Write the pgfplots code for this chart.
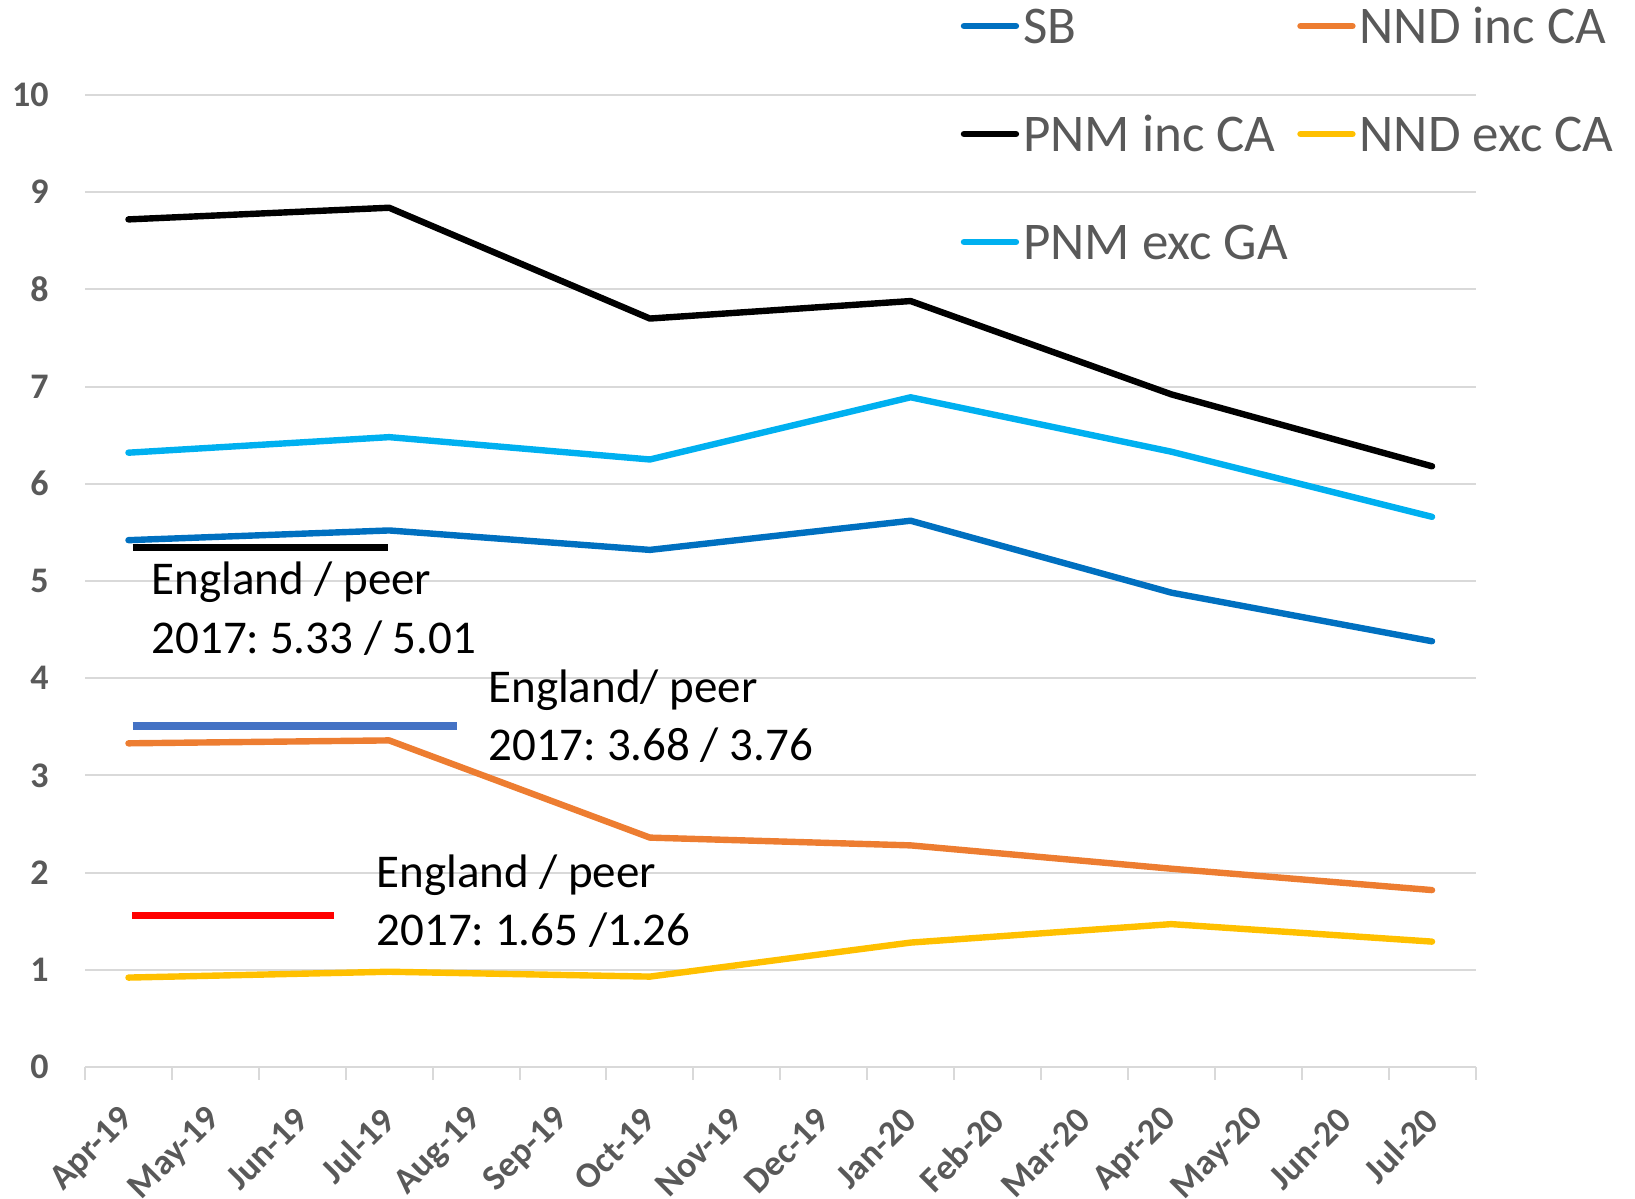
\documentclass[border=0pt]{standalone}
\usepackage{fontspec}
\setmainfont{Carlito}
\usepackage{pgfplots}
\pgfplotsset{compat=1.18}
\usetikzlibrary{calc}
\definecolor{sbblue}{HTML}{0070C0}
\definecolor{ndorange}{HTML}{ED7D31}
\definecolor{ndyellow}{HTML}{FFC000}
\definecolor{pnmcyan}{HTML}{00B0F0}
\definecolor{refblue}{HTML}{4472C4}
\definecolor{gridgray}{HTML}{D9D9D9}
\definecolor{txtgray}{HTML}{595959}
\frenchspacing
\begin{document}
\begin{tikzpicture}
\begin{axis}[
  scale only axis,
  width=695.25pt, height=486pt,
  xmin=-0.5, xmax=15.5, ymin=0, ymax=10,
  xtick={0,...,15},
  xticklabels={Apr-19,May-19,Jun-19,Jul-19,Aug-19,Sep-19,Oct-19,Nov-19,Dec-19,Jan-20,Feb-20,Mar-20,Apr-20,May-20,Jun-20,Jul-20},
  minor xtick={-0.5,0.5,...,15.5},
  ytick={0,...,10},
  major tick length=0pt,
  minor tick length=6.25pt,
  tick align=outside,
  xtick pos=bottom, ytick pos=left,
  minor tick style={draw=gridgray, line width=1pt},
  axis line style={draw=none},
  ymajorgrids, major grid style={draw=gridgray, line width=1pt},
  ticklabel style={font=\bfseries\fontsize{18}{18}\selectfont, text=txtgray},
  /pgf/number format/assume math mode=true,
  yticklabel style={inner sep=0pt, anchor=east},
  yticklabel shift=18pt,
  xticklabel style={inner sep=0pt, rotate=45, anchor=east},
  xticklabel shift=23.5pt,
  legend columns=2,
  legend style={
    at={(0.6298,1.0905)}, anchor=north west,
    draw=none, fill=none, inner sep=0pt, outer sep=0pt,
    font=\fontsize{26.5}{32}\selectfont, text=txtgray,
    row sep=30pt,
    nodes={inner sep=0pt, text height=18pt, text depth=6pt},
    cells={anchor=base west},
    /tikz/every odd column/.append style={column sep=2pt},
    /tikz/every even column/.append style={column sep=4.7pt},
  },
  legend image code/.code={\draw[#1, line cap=round] (0pt,8.5pt) -- (26pt,8.5pt);},
  every axis plot/.append style={line width=3.2pt, line cap=round, line join=round},
  clip=false,
]
\coordinate (sw) at (rel axis cs:0,0);
\coordinate (ne) at (rel axis cs:1,1);
% reference lines
\addplot[black, line width=3.6pt, line cap=butt, forget plot] coordinates {(0.048,5.343) (2.99,5.343)};
\addplot[refblue, line width=3.6pt, line cap=butt, forget plot] coordinates {(0.048,3.508) (3.776,3.508)};
\addplot[red, line width=3.6pt, line cap=butt, forget plot] coordinates {(0.043,1.556) (2.37,1.556)};
% series
\addplot[sbblue] coordinates {(0,5.42) (3,5.52) (6,5.32) (9,5.62) (12,4.88) (15,4.38)};
\addlegendentry{SB}
\addplot[ndorange] coordinates {(0,3.33) (3,3.36) (6,2.36) (9,2.28) (12,2.04) (15,1.82)};
\addlegendentry{NND inc CA}
\addplot[black] coordinates {(0,8.72) (3,8.84) (6,7.70) (9,7.88) (12,6.92) (15,6.18)};
\addlegendentry{PNM inc CA}
\addplot[ndyellow] coordinates {(0,0.92) (3,0.98) (6,0.93) (9,1.28) (12,1.47) (15,1.29)};
\addlegendentry{NND exc CA}
\addplot[pnmcyan] coordinates {(0,6.32) (3,6.48) (6,6.25) (9,6.89) (12,6.33) (15,5.66)};
\addlegendentry{PNM exc GA}
% annotations
\node[anchor=base west, inner sep=0pt, font=\fontsize{23.5}{28}\selectfont] at (axis cs:0.262,4.856) {England / peer};
\node[anchor=base west, inner sep=0pt, font=\fontsize{23.5}{28}\selectfont] at (axis cs:0.262,4.259) {2017: 5.33 / 5.01};
\node[anchor=base west, inner sep=0pt, font=\fontsize{23.5}{28}\selectfont] at (axis cs:4.138,3.755) {England/ peer};
\node[anchor=base west, inner sep=0pt, font=\fontsize{23.5}{28}\selectfont] at (axis cs:4.138,3.158) {2017: 3.68 / 3.76};
\node[anchor=base west, inner sep=0pt, font=\fontsize{23.5}{28}\selectfont] at (axis cs:2.85,1.842) {England / peer};
\node[anchor=base west, inner sep=0pt, font=\fontsize{23.5}{28}\selectfont] at (axis cs:2.85,1.245) {2017: 1.65 /1.26};
\end{axis}
\pgfresetboundingbox
\path[use as bounding box] ($(sw)+(-42.5pt,-65.5pt)$) rectangle ($(ne)+(79.75pt,47.5pt)$);
\end{tikzpicture}
\end{document}
